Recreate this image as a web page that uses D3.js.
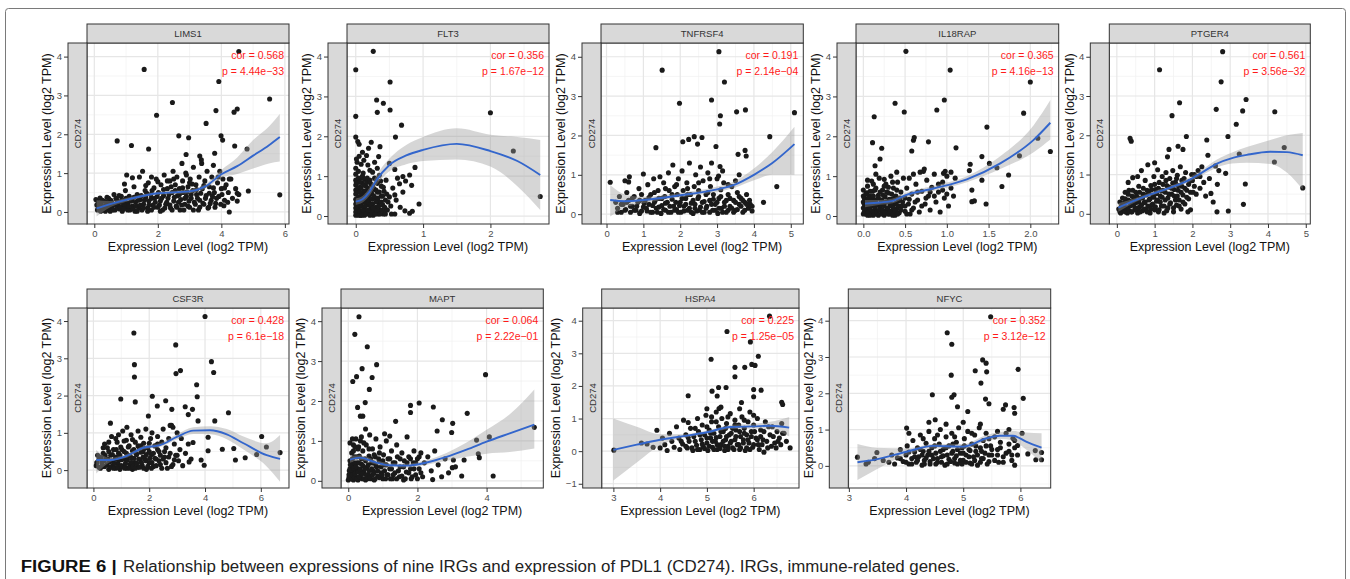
<!DOCTYPE html>
<html>
<head>
<meta charset="utf-8">
<script src="https://cdn.jsdelivr.net/npm/d3@7"></script>
<style>
  body { margin: 0; background: #fff; }
  svg { display: block; font-family: "Liberation Sans", Arial, sans-serif; }
</style>
</head>
<body>
<script>
// gene names, annotations and ticks
const genes = ['LIMS1', 'FLT3', 'TNFRSF4', 'IL18RAP', 'PTGER4', 'CSF3R', 'MAPT', 'HSPA4', 'NFYC'];
const corText = ['cor = 0.568', 'cor = 0.356', 'cor = 0.191', 'cor = 0.365', 'cor = 0.561',
    'cor = 0.428', 'cor = 0.064', 'cor = 0.225', 'cor = 0.352'];
const pText = ['p = 4.44e\u221233', 'p = 1.67e\u221212', 'p = 2.14e\u221204', 'p = 4.16e\u221213', 'p = 3.56e\u221232',
    'p = 6.1e\u221218', 'p = 2.22e\u221201', 'p = 1.25e\u221205', 'p = 3.12e\u221212'];
const xTicks = [[0, 2, 4, 6], [0, 1, 2], [0, 1, 2, 3, 4, 5], [0, 0.5, 1, 1.5, 2], [0, 1, 2, 3, 4, 5],
    [0, 2, 4, 6], [0, 2, 4], [3, 4, 5, 6], [3, 4, 5, 6]];
const yTicks = [[0, 1, 2, 3, 4], [0, 1, 2, 3, 4], [0, 1, 2, 3, 4], [0, 1, 2, 3, 4], [0, 1, 2, 3, 4],
    [0, 1, 2, 3, 4], [0, 1, 2, 3, 4], [-1, 0, 1, 2, 3, 4], [0, 1, 2, 3, 4]];
const xDomains = [[-0.23, 6.13], [-0.13, 2.87], [-0.15, 5.34], [-0.088, 2.34], [-0.2, 5.12],
    [-0.23, 7.01], [-0.21, 5.64], [2.75, 6.97], [2.99, 6.53]];
const yDomains = [[-0.31, 4.35], [-0.2, 4.34], [-0.25, 4.35], [-0.2, 4.34], [-0.26, 4.35],
    [-0.48, 4.35], [-0.18, 4.33], [-1.13, 4.39], [-0.61, 4.35]];

// scatter points [IRG expression, CD274 expression]
const lims1Pts = [[0.05,0.32],[0.08,0.18],[0.1,0.05],[0.12,0.25],[0.15,0.12],[0.18,0.36],[0.2,0.02],[0.22,0.2],[0.25,0.1],[0.3,0.28],[0.32,0.05],[0.35,0.15],[0.4,0.38],[0.42,0.08],[0.45,0.22],[0.5,0.02],[0.52,0.3],[0.55,0.12],[0.6,0.2],[0.62,0.45],[0.65,0.05],[0.7,0.32],[0.72,0.15],[0.78,0.08],[0.8,0.25],[0.85,0.4],[0.88,0.02],[0.9,0.15],[0.95,0.3],[0.98,0.55],[1.0,0.1],[1.02,0.95],[1.05,0.22],[1.1,0.4],[1.12,0.05],[1.18,0.3],[1.2,0.15],[1.25,0.65],[1.28,0.02],[1.3,0.25],[1.35,0.45],[1.4,0.1],[1.42,0.9],[1.45,0.32],[1.5,0.05],[1.52,1.05],[1.55,0.2],[1.6,0.55],[1.62,0.38],[1.68,0.1],[1.7,0.75],[1.72,0.28],[1.78,0.45],[1.8,0.05],[1.85,0.18],[1.88,0.62],[1.9,0.35],[1.95,0.85],[2.0,0.12],[2.02,0.5],[2.08,0.28],[2.1,0.7],[2.15,0.05],[2.18,0.42],[2.2,0.95],[2.25,0.2],[2.3,0.6],[2.32,0.35],[2.38,0.8],[2.4,0.1],[2.45,0.5],[2.48,1.05],[2.5,0.28],[2.55,0.7],[2.58,0.15],[2.6,0.9],[2.62,0.42],[2.68,0.6],[2.7,0.05],[2.72,0.32],[2.78,0.8],[2.8,0.5],[2.85,0.2],[2.88,1.0],[2.9,0.4],[2.95,0.65],[3.0,0.12],[3.02,0.85],[3.05,0.35],[3.1,0.55],[3.12,1.15],[3.15,0.25],[3.2,0.7],[3.22,0.45],[3.28,0.05],[3.3,0.9],[3.32,0.3],[3.38,1.25],[3.4,0.6],[3.45,0.2],[3.48,0.8],[3.52,0.42],[3.55,1.05],[3.6,0.12],[3.62,0.65],[3.68,0.3],[3.7,0.9],[3.75,1.2],[3.78,0.5],[3.82,0.22],[3.88,0.75],[3.92,0.4],[3.95,1.05],[4.0,0.6],[4.05,0.85],[4.1,0.3],[4.15,0.7],[4.22,0.5],[4.3,0.85],[4.35,0.35],[4.45,0.6],[4.55,0.45],
    [4.55,4.13],[1.57,3.67],[3.92,3.36],[5.52,2.91],[2.46,2.82],[1.96,2.49],[3.83,2.61],[4.4,2.57],[4.5,2.65],[3.52,2.28],[0.72,1.83],[1.17,1.71],[1.71,1.62],[2.66,1.96],[2.97,1.91],[3.99,1.96],[4.04,1.85],[4.42,1.7],[4.81,1.62],[2.89,1.48],[3.32,1.44],[3.79,1.51],[2.76,1.25],[3.37,1.34],[5.84,0.44],[4.85,0.54],[4.5,0.48],[4.5,0.28],[4.25,0.0],[4.08,0.16]];
const lims1Core = [[0.12,0.08],[0.18,0.22],[0.25,0.3],[0.28,0.12],[0.35,0.02],[0.38,0.25],[0.45,0.35],[0.48,0.12],[0.55,0.25],[0.58,0.05],[0.65,0.18],[0.68,0.35],[0.75,0.22],[0.78,0.42],[0.82,0.12],[0.85,0.28],[0.92,0.08],[0.95,0.2],[1.0,0.35],[1.05,0.05],[1.08,0.15],[1.15,0.28],[1.22,0.08],[1.25,0.38],[1.32,0.15],[1.35,0.02],[1.38,0.3],[1.45,0.18],[1.48,0.42],[1.55,0.1],[1.58,0.3],[1.65,0.48],[1.68,0.02],[1.72,0.18],[1.8,0.35],[1.82,0.55],[1.88,0.12],[1.92,0.25],[1.98,0.4],[2.05,0.18],[2.08,0.02],[2.12,0.35],[2.18,0.58],[2.22,0.1],[2.28,0.25],[2.35,0.45],[2.38,0.18],[2.42,0.65],[2.45,0.05],[2.52,0.38],[2.55,0.55],[2.6,0.12],[2.65,0.25],[2.68,0.45],[2.75,0.18],[2.78,0.62],[2.82,0.05],[2.85,0.35],[2.92,0.52],[2.95,0.15],[2.98,0.28],[3.05,0.45],[3.08,0.72],[3.12,0.05],[3.18,0.2],[3.22,0.58],[3.25,0.35],[3.32,0.12],[3.35,0.48],[3.42,0.22],[3.45,0.68],[3.5,0.35],[3.58,0.1],[3.62,0.48],[3.65,0.22],[3.72,0.4],[3.75,0.62],[3.8,0.12],[3.85,0.35],[3.9,0.9],[3.98,0.2],[4.02,0.45],[4.1,0.62],[4.2,0.25],[4.25,0.85],[3.0,0.75],[2.9,0.95],[2.5,0.85],[2.3,0.8],[2.0,0.78],[1.8,0.9],[1.2,0.88],[0.95,0.72],[1.62,0.68]];
const flt3Pts = [[0,0.02],[0,0.1],[0,0.2],[0,0.3],[0,0.42],[0,0.55],[0,0.65],[0,0.78],[0,0.9],[0,1.05],[0,1.2],[0.02,0.05],[0.02,0.35],[0.03,0.6],[0.03,0.85],[0.04,1.12],[0.05,0.15],[0.05,0.48],[0.06,0.72],[0.07,0.02],[0.07,0.28],[0.08,0.95],[0.09,0.55],[0.1,0.1],[0.1,0.4],[0.1,0.82],[0.11,1.08],[0.12,0.22],[0.12,0.62],[0.13,0.02],[0.14,0.35],[0.15,0.75],[0.15,0.5],[0.16,0.12],[0.17,0.95],[0.18,0.28],[0.19,0.6],[0.2,0.05],[0.2,0.42],[0.21,1.15],[0.22,0.18],[0.23,0.8],[0.24,0.55],[0.25,0.3],[0.26,0.02],[0.27,0.68],[0.28,0.12],[0.29,0.45],[0.3,0.92],[0.3,0.22],[0.32,0.6],[0.33,0.05],[0.34,0.35],[0.35,1.02],[0.36,0.15],[0.38,0.5],[0.38,0.75],[0.4,0.28],[0.41,0.05],[0.42,0.62],[0.44,0.4],[0.45,0.9],[0.47,0.15],[0.5,0.48],[0.52,0.25],[0.55,0.7],[0.58,0.05],[0.6,0.4],[0.62,0.95],[0.66,0.22],[0.7,0.6],[0.02,1.35],[0.05,1.5],[0.08,1.3],[0.12,1.4],[0.18,1.28],[0.25,1.1],[0.28,1.35],[0.32,1.2],[0.1,1.6],
    [0.26,4.13],[0,3.67],[0.51,3.36],[0.31,2.91],[0.41,2.83],[0.32,2.6],[0.51,2.66],[0,2.5],[0.68,2.28],[2.0,2.59],[2.34,1.63],[2.74,0.49],[0.59,1.98],[0,1.98],[0.03,1.87],[0.05,1.8],[0.23,1.85],[0.19,1.7],[0.36,1.74],[0.34,1.49],[0.16,1.52],[0.01,1.43],[0.88,1.22],[0.8,1.03],[0.7,0.99],[0.74,0.88],[0.65,0.81],[0.83,0.77],[0.58,0.53],[0.94,0.3],[0.73,0.13],[0.8,0.07],[0.84,0.12],[0.53,0.05],[0.45,0.15],[0.5,1.32],[0.58,1.17]];
const flt3Core = [[0.01,0.15],[0.01,0.38],[0.01,0.6],[0.01,0.85],[0.03,0.22],[0.03,0.45],[0.03,0.7],[0.04,0.02],[0.04,0.95],[0.06,0.12],[0.06,0.35],[0.06,0.6],[0.06,0.85],[0.08,0.25],[0.08,0.48],[0.08,0.7],[0.09,0.02],[0.1,1.0],[0.11,0.15],[0.11,0.35],[0.12,0.52],[0.12,0.78],[0.13,0.92],[0.14,0.25],[0.15,0.05],[0.15,0.62],[0.16,0.42],[0.17,0.85],[0.18,0.15],[0.18,0.7],[0.19,0.35],[0.2,0.52],[0.21,0.02],[0.21,0.9],[0.22,0.28],[0.23,0.62],[0.24,0.1],[0.24,0.42],[0.25,0.75],[0.26,0.2],[0.27,0.5],[0.28,0.95],[0.29,0.05],[0.3,0.35],[0.3,0.65],[0.31,0.15],[0.32,0.82],[0.33,0.45],[0.34,0.25],[0.35,0.6],[0.36,0.05],[0.37,0.88],[0.38,0.35],[0.39,0.15],[0.4,0.5],[0.41,0.72],[0.43,0.22],[0.44,0.05],[0.46,0.55],[0.48,0.35]];
const tnfrsf4Pts = [[0.25,0.3],[0.3,0.15],[0.35,0.45],[0.4,0.05],[0.45,0.25],[0.5,0.85],[0.52,0.12],[0.55,0.55],[0.6,0.35],[0.62,0.95],[0.65,0.05],[0.7,0.2],[0.75,0.45],[0.8,0.1],[0.85,0.3],[0.88,0.65],[0.9,0.02],[0.95,0.5],[1.0,0.18],[1.0,1.02],[1.05,0.35],[1.1,0.08],[1.12,0.75],[1.15,0.25],[1.2,0.5],[1.25,0.05],[1.28,0.9],[1.3,0.3],[1.35,0.15],[1.4,0.6],[1.42,0.4],[1.48,0.02],[1.5,0.22],[1.55,0.8],[1.58,0.45],[1.6,0.1],[1.65,0.3],[1.68,1.05],[1.7,0.6],[1.75,0.05],[1.78,0.38],[1.8,1.25],[1.82,0.2],[1.85,0.7],[1.9,0.12],[1.92,0.5],[1.95,0.9],[2.0,0.3],[2.02,0.05],[2.05,1.1],[2.08,0.6],[2.1,0.2],[2.15,0.4],[2.18,0.8],[2.2,0.1],[2.25,1.3],[2.28,0.5],[2.3,0.28],[2.35,0.02],[2.38,0.7],[2.4,0.15],[2.42,1.0],[2.48,0.4],[2.5,0.6],[2.52,0.1],[2.55,1.2],[2.6,0.3],[2.62,0.85],[2.65,0.05],[2.7,0.5],[2.72,0.2],[2.75,1.05],[2.8,0.35],[2.82,0.7],[2.88,0.1],[2.9,0.5],[2.95,0.25],[3.0,0.9],[3.02,0.02],[3.05,0.4],[3.1,0.62],[3.12,0.15],[3.18,0.8],[3.2,0.3],[3.25,0.05],[3.3,0.5],[3.35,0.2],[3.4,0.7],[3.45,0.35],[3.5,0.1],[3.55,0.55],[3.6,0.25],[3.65,0.4],[3.7,0.05],[3.75,0.3],[3.8,0.5],[3.85,0.15],[3.9,0.25],[3.95,0.2],[0.6,0.82],[1.45,0.95],[2.85,1.3],[3.15,1.1],[3.6,1.0],
    [3.05,4.13],[1.51,3.66],[3.2,3.36],[2.85,2.9],[1.98,2.82],[3.09,2.5],[3.07,2.29],[3.53,2.6],[3.77,2.65],[5.1,2.58],[1.34,1.69],[2.38,1.97],[2.23,1.9],[2.07,1.84],[2.59,1.95],[2.47,1.78],[2.97,1.72],[4.43,1.97],[3.57,1.52],[3.76,1.62],[3.79,1.48],[4.62,0.7],[4.26,0.3],[0.1,0.81],[3.08,1.21],[3.04,0.97]];
const tnfrsf4Core = [[0.3,0.05],[0.4,0.25],[0.5,0.1],[0.55,0.3],[0.65,0.2],[0.7,0.4],[0.75,0.1],[0.82,0.2],[0.9,0.35],[0.95,0.08],[1.02,0.28],[1.08,0.15],[1.15,0.42],[1.2,0.05],[1.25,0.22],[1.32,0.35],[1.38,0.05],[1.42,0.18],[1.5,0.4],[1.55,0.12],[1.6,0.28],[1.68,0.05],[1.72,0.2],[1.78,0.5],[1.85,0.1],[1.88,0.3],[1.95,0.05],[1.98,0.22],[2.05,0.4],[2.1,0.08],[2.15,0.25],[2.2,0.5],[2.25,0.15],[2.3,0.05],[2.35,0.35],[2.4,0.25],[2.45,0.08],[2.5,0.45],[2.55,0.18],[2.6,0.05],[2.65,0.32],[2.7,0.15],[2.75,0.55],[2.8,0.05],[2.85,0.25],[2.9,0.38],[2.95,0.1],[3.0,0.3],[3.05,0.15],[3.1,0.45],[3.15,0.05],[3.2,0.2],[3.25,0.35],[3.3,0.1],[3.35,0.4],[3.4,0.15],[3.45,0.05],[3.5,0.3],[3.55,0.12],[3.6,0.45],[3.65,0.2],[3.7,0.35],[3.75,0.1],[3.8,0.25],[3.88,0.35],[3.95,0.08],[1.6,0.65],[1.9,0.75],[2.2,0.65],[2.5,0.8],[2.8,0.9],[3.3,0.75],[3.5,0.85],[1.3,0.55]];
const il18rapPts = [[0,0.05],[0,0.2],[0,0.35],[0,0.5],[0,0.65],[0.02,0.12],[0.02,0.42],[0.03,0.28],[0.04,0.58],[0.05,0.02],[0.05,0.75],[0.06,0.18],[0.07,0.35],[0.08,0.5],[0.09,0.08],[0.1,0.88],[0.1,0.25],[0.11,0.62],[0.12,0.02],[0.13,0.4],[0.14,0.15],[0.15,0.7],[0.16,0.3],[0.17,0.05],[0.18,0.52],[0.19,0.95],[0.2,0.2],[0.21,0.38],[0.22,0.08],[0.23,0.65],[0.24,0.28],[0.25,0.02],[0.26,0.48],[0.27,0.8],[0.28,0.15],[0.29,0.35],[0.3,0.58],[0.31,0.05],[0.32,0.25],[0.33,1.0],[0.34,0.42],[0.35,0.12],[0.36,0.7],[0.37,0.3],[0.38,0.02],[0.39,0.5],[0.4,0.18],[0.41,0.85],[0.42,0.38],[0.43,0.08],[0.45,0.6],[0.46,0.25],[0.48,0.95],[0.5,0.12],[0.5,0.45],[0.52,0.7],[0.54,0.3],[0.56,0.05],[0.58,0.55],[0.6,1.05],[0.6,0.2],[0.63,0.8],[0.65,0.4],[0.67,0.1],[0.7,0.62],[0.72,1.12],[0.74,0.3],[0.76,0.9],[0.78,0.5],[0.8,0.15],[0.82,0.72],[0.85,1.05],[0.87,0.35],[0.9,0.6],[0.92,0.1],[0.95,0.85],[0.97,0.45],[1.0,1.0],[1.02,0.25],[1.05,0.7],[1.08,0.5],[1.1,0.95],[0.15,1.05],[0.25,0.92],[0.4,1.1],[0.55,0.95],[0.3,0.72],[0.1,0.45],
    [0.51,4.13],[1.04,3.66],[2.0,3.36],[0.97,2.91],[0.38,2.83],[0.49,2.61],[0.88,2.66],[0.13,2.49],[1.92,2.58],[1.48,2.23],[0.11,1.84],[0.22,1.7],[0.61,1.97],[0.6,1.9],[0.78,1.86],[0.58,1.63],[0.2,1.43],[0.14,1.26],[1.11,1.71],[1.42,1.49],[1.87,1.51],[2.09,1.95],[2.24,1.62],[1.51,1.32],[1.6,1.21],[1.74,1.03],[1.66,0.74],[1.3,0.65],[1.3,0.36],[1.33,0.38],[1.47,0.3],[1.28,1.3],[1.27,1.14],[1.42,0.9],[0.96,1.07],[0.98,1.12],[1.05,1.1],[0.68,1.1],[0.73,1.18]];
const il18rapCore = [[0.01,0.1],[0.01,0.3],[0.01,0.45],[0.03,0.05],[0.03,0.2],[0.03,0.55],[0.04,0.38],[0.06,0.1],[0.06,0.28],[0.06,0.45],[0.08,0.02],[0.08,0.2],[0.08,0.62],[0.09,0.38],[0.11,0.12],[0.11,0.28],[0.12,0.5],[0.13,0.05],[0.14,0.22],[0.14,0.65],[0.15,0.4],[0.16,0.1],[0.17,0.28],[0.18,0.02],[0.18,0.45],[0.19,0.15],[0.2,0.6],[0.21,0.28],[0.22,0.05],[0.22,0.4],[0.23,0.15],[0.24,0.52],[0.25,0.25],[0.26,0.08],[0.27,0.35],[0.28,0.6],[0.29,0.2],[0.3,0.05],[0.31,0.42],[0.32,0.12],[0.33,0.3],[0.34,0.55],[0.35,0.02],[0.36,0.2],[0.37,0.45],[0.38,0.12],[0.39,0.32],[0.4,0.65],[0.41,0.05],[0.42,0.25],[0.44,0.45],[0.45,0.15],[0.47,0.35],[0.5,0.25],[0.52,0.05],[0.55,0.42],[0.58,0.15],[0.62,0.35],[0.65,0.6],[0.7,0.25],[0.75,0.45],[0.8,0.6],[0.85,0.5],[0.9,0.8],[0.95,0.65],[1.0,0.55],[0.25,0.75],[0.12,0.8],[0.35,0.85],[0.05,0.9]];
const ptger4Pts = [[0.05,0.12],[0.08,0.3],[0.1,0.02],[0.12,0.2],[0.15,0.4],[0.18,0.08],[0.2,0.28],[0.22,0.55],[0.25,0.15],[0.28,0.02],[0.3,0.35],[0.32,0.6],[0.35,0.2],[0.38,0.05],[0.4,0.45],[0.42,0.92],[0.45,0.25],[0.48,0.1],[0.5,0.55],[0.52,0.32],[0.55,0.02],[0.58,0.7],[0.6,0.18],[0.62,0.4],[0.65,1.1],[0.68,0.08],[0.7,0.5],[0.72,0.28],[0.75,0.85],[0.78,0.12],[0.8,0.6],[0.82,1.25],[0.85,0.35],[0.88,0.02],[0.9,0.72],[0.92,0.22],[0.95,0.48],[0.98,0.95],[1.0,0.1],[1.02,0.62],[1.05,0.32],[1.08,1.12],[1.1,0.05],[1.12,0.8],[1.15,0.45],[1.18,0.2],[1.2,0.95],[1.22,0.6],[1.25,0.02],[1.28,0.35],[1.3,1.05],[1.32,0.72],[1.35,0.15],[1.38,0.5],[1.4,0.9],[1.42,0.28],[1.45,0.65],[1.48,1.1],[1.5,0.05],[1.52,0.45],[1.55,0.8],[1.58,0.22],[1.6,0.98],[1.62,0.6],[1.65,0.35],[1.68,1.2],[1.7,0.12],[1.72,0.7],[1.75,0.48],[1.78,0.9],[1.8,0.25],[1.82,1.05],[1.85,0.6],[1.88,0.05],[1.9,0.38],[1.92,0.82],[1.95,0.1],[1.98,1.0],[2.02,0.55],[2.05,0.7],[2.1,0.95],[2.15,1.1],[2.2,0.65],[2.25,1.2],[2.3,0.8],[2.35,0.45],[2.45,0.9],[0.3,0.8],[0.55,0.95],[1.0,1.3],
    [2.8,4.13],[1.13,3.67],[2.76,3.36],[3.42,2.91],[1.66,2.83],[2.63,2.66],[3.33,2.62],[4.18,2.6],[1.46,2.5],[3.16,2.28],[0.35,1.92],[0.38,1.85],[1.84,1.97],[2.94,1.97],[2.38,1.88],[1.38,1.64],[1.62,1.72],[1.75,1.64],[1.34,1.45],[2.41,1.49],[3.24,1.52],[4.43,1.69],[4.17,1.32],[4.92,0.66],[3.4,0.76],[3.35,0.24],[2.95,0.07],[2.65,0.05],[2.88,1.03],[2.61,1.22],[2.49,0.52],[2.66,0.75],[2.55,0.3],[2.7,1.1]];
const ptger4Core = [[0.08,0.05],[0.12,0.12],[0.15,0.25],[0.18,0.18],[0.22,0.05],[0.22,0.38],[0.25,0.3],[0.28,0.15],[0.3,0.5],[0.32,0.08],[0.35,0.32],[0.38,0.22],[0.4,0.05],[0.42,0.6],[0.45,0.38],[0.48,0.15],[0.5,0.28],[0.52,0.45],[0.55,0.12],[0.58,0.3],[0.6,0.55],[0.62,0.05],[0.65,0.22],[0.68,0.4],[0.7,0.65],[0.72,0.12],[0.75,0.3],[0.78,0.48],[0.8,0.05],[0.82,0.2],[0.85,0.55],[0.88,0.38],[0.9,0.12],[0.92,0.62],[0.95,0.25],[0.98,0.42],[1.0,0.75],[1.02,0.18],[1.05,0.52],[1.08,0.35],[1.1,0.65],[1.12,0.1],[1.15,0.3],[1.18,0.58],[1.2,0.42],[1.22,0.75],[1.25,0.2],[1.28,0.55],[1.3,0.85],[1.32,0.08],[1.35,0.4],[1.38,0.68],[1.4,0.25],[1.45,0.5],[1.48,0.78],[1.5,0.15],[1.52,0.62],[1.55,0.35],[1.58,0.9],[1.6,0.45],[1.62,0.72],[1.65,0.2],[1.7,0.55],[1.72,0.85],[1.75,0.3],[1.8,0.65],[1.85,0.42],[1.9,0.75],[1.95,0.55],[2.0,0.85],[2.05,1.0],[2.1,0.5],[2.2,0.95]];
const csf3rPts = [[0.1,0.12],[0.2,0.3],[0.25,0.05],[0.3,0.2],[0.35,0.45],[0.4,0.1],[0.45,0.3],[0.5,0.6],[0.55,0.02],[0.58,0.22],[0.62,0.4],[0.65,0.9],[0.7,0.12],[0.72,0.55],[0.78,0.3],[0.8,0.05],[0.85,0.75],[0.88,0.18],[0.9,0.45],[0.95,0.02],[0.98,0.62],[1.0,0.28],[1.05,1.05],[1.08,0.1],[1.1,0.5],[1.15,0.3],[1.18,0.8],[1.2,0.05],[1.25,0.4],[1.28,0.65],[1.3,0.15],[1.35,0.95],[1.38,0.32],[1.4,0.02],[1.45,0.55],[1.48,0.2],[1.5,0.75],[1.55,0.42],[1.58,0.08],[1.6,1.05],[1.65,0.6],[1.68,0.28],[1.7,0.88],[1.75,0.12],[1.78,0.5],[1.8,0.72],[1.85,0.3],[1.88,1.1],[1.9,0.02],[1.95,0.6],[2.0,0.2],[2.05,0.85],[2.08,0.42],[2.1,1.0],[2.15,0.1],[2.2,0.65],[2.25,0.3],[2.3,0.9],[2.35,0.5],[2.4,0.15],[2.45,0.75],[2.5,1.1],[2.55,0.35],[2.6,0.6],[2.65,0.05],[2.7,0.85],[2.75,0.45],[2.8,1.2],[2.85,0.15],[2.9,0.7],[2.95,0.4],[3.0,1.0],[3.05,0.25],[3.1,0.55],[3.15,0.85],[3.2,0.12],[3.3,0.45],[3.4,0.7],[3.5,0.3],[0.4,0.7],[0.9,0.95],[1.2,1.15],[0.15,0.4],
    [4.0,4.12],[1.45,3.68],[2.95,3.36],[1.47,2.83],[1.47,2.5],[3.12,2.67],[2.96,2.59],[4.23,2.91],[4.31,2.62],[3.7,2.29],[3.72,1.97],[0.98,1.91],[1.5,1.83],[2.11,1.98],[2.59,1.86],[2.29,1.72],[2.81,1.63],[3.29,1.7],[3.55,1.63],[3.4,1.49],[4.84,1.54],[1.97,1.45],[4.35,1.32],[3.75,1.32],[0.61,1.26],[6.03,0.9],[5.85,0.42],[6.2,0.62],[6.69,0.47],[5.44,0.33],[5.09,0.27],[5.03,0.58],[4.62,0.56],[4.11,0.52],[4.11,0.88],[3.57,0.74],[3.86,0.27],[3.97,0.13],[3.43,0.22],[2.85,1.15],[2.75,1.2]];
const csf3rCore = [[0.12,0.2],[0.2,0.08],[0.28,0.35],[0.32,0.1],[0.38,0.25],[0.42,0.4],[0.48,0.15],[0.52,0.3],[0.55,0.5],[0.6,0.08],[0.65,0.25],[0.68,0.42],[0.72,0.05],[0.75,0.18],[0.8,0.35],[0.82,0.55],[0.88,0.08],[0.9,0.28],[0.95,0.4],[1.0,0.12],[1.02,0.55],[1.08,0.3],[1.12,0.05],[1.15,0.18],[1.18,0.45],[1.22,0.28],[1.25,0.62],[1.3,0.05],[1.32,0.38],[1.35,0.2],[1.4,0.52],[1.42,0.1],[1.45,0.32],[1.5,0.05],[1.52,0.45],[1.55,0.18],[1.6,0.65],[1.62,0.3],[1.65,0.08],[1.7,0.48],[1.72,0.2],[1.78,0.35],[1.8,0.05],[1.82,0.58],[1.88,0.25],[1.9,0.42],[1.95,0.1],[2.0,0.5],[2.02,0.32],[2.08,0.05],[2.1,0.2],[2.15,0.45],[2.2,0.32],[2.25,0.12],[2.3,0.55],[2.35,0.25],[2.4,0.4],[2.45,0.05],[2.5,0.3],[2.55,0.5],[2.6,0.2],[2.7,0.35],[2.8,0.1],[2.9,0.28],[3.0,0.4],[0.55,0.75],[0.8,0.85],[1.1,0.78],[1.4,0.82],[1.7,0.65],[2.0,0.72],[2.3,0.7],[0.35,0.6]];
const maptPts = [[0,0.02],[0.02,0.15],[0.05,0.3],[0.05,0.5],[0.08,0.05],[0.1,0.7],[0.1,0.2],[0.12,0.4],[0.15,0.9],[0.15,0.02],[0.18,0.6],[0.2,0.25],[0.22,1.05],[0.22,0.1],[0.25,0.45],[0.28,0.8],[0.28,0.02],[0.3,0.3],[0.32,0.62],[0.35,0.12],[0.35,1.0],[0.38,0.42],[0.4,0.05],[0.42,0.75],[0.45,0.22],[0.48,0.55],[0.5,0.02],[0.52,0.9],[0.55,0.35],[0.58,0.15],[0.6,0.62],[0.62,1.15],[0.65,0.05],[0.68,0.45],[0.7,0.8],[0.72,0.25],[0.75,0.02],[0.78,0.6],[0.8,1.05],[0.82,0.35],[0.85,0.12],[0.9,0.5],[0.92,0.85],[0.95,0.2],[1.0,0.05],[1.02,0.65],[1.05,0.4],[1.1,1.0],[1.12,0.15],[1.15,0.55],[1.2,0.3],[1.25,0.75],[1.28,0.05],[1.3,0.45],[1.35,0.2],[1.4,0.9],[1.42,0.6],[1.48,0.1],[1.5,0.35],[1.55,0.7],[1.6,0.02],[1.62,0.5],[1.68,0.22],[1.7,1.1],[1.75,0.6],[1.8,0.3],[1.82,0.05],[1.88,0.45],[1.9,0.75],[1.95,0.15],[2.0,0.55],[2.05,0.3],[2.1,0.7],[2.15,0.1],[2.2,0.45],[2.3,0.6],[2.4,0.25],[2.5,0.75],[2.6,0.4],[2.7,0.1],[2.8,0.55],[2.9,0.2],[3.1,0.35],[0.12,1.05],[0.38,1.1],[0.2,0.85],
    [0.31,4.11],[0.19,3.67],[0.55,3.36],[0.82,2.91],[0.4,2.81],[0.24,2.61],[0.69,2.59],[0.13,2.49],[3.97,2.66],[0.61,2.29],[0.49,1.96],[0.27,1.84],[0.35,1.62],[0.42,1.62],[1.8,1.89],[1.8,1.71],[2.05,1.95],[2.46,1.85],[3.44,1.69],[1.37,1.49],[3.02,1.44],[2.57,1.25],[2.72,1.53],[2.99,1.21],[3.71,1.02],[4.08,1.1],[5.38,1.34],[3.76,0.68],[3.79,0.58],[4.19,0.12],[3.28,0.12],[3.35,0.52],[3.04,0.52],[3.01,0.33],[2.44,0.03],[0.5,1.3],[1.05,1.18],[1.2,1.12]];
const maptCore = [[0.02,0.08],[0.03,0.25],[0.05,0.15],[0.06,0.4],[0.08,0.28],[0.1,0.05],[0.12,0.15],[0.12,0.55],[0.15,0.32],[0.18,0.08],[0.18,0.45],[0.2,0.18],[0.22,0.35],[0.25,0.05],[0.25,0.6],[0.28,0.22],[0.3,0.45],[0.32,0.1],[0.35,0.28],[0.38,0.55],[0.4,0.18],[0.42,0.38],[0.45,0.05],[0.48,0.3],[0.5,0.5],[0.52,0.15],[0.55,0.05],[0.58,0.4],[0.6,0.25],[0.62,0.08],[0.65,0.55],[0.68,0.3],[0.7,0.15],[0.72,0.45],[0.75,0.2],[0.78,0.05],[0.8,0.38],[0.85,0.25],[0.88,0.55],[0.9,0.08],[0.95,0.35],[0.98,0.15],[1.0,0.5],[1.05,0.25],[1.08,0.05],[1.1,0.4],[1.15,0.15],[1.2,0.55],[1.22,0.05],[1.25,0.3],[1.3,0.15],[1.35,0.45],[1.4,0.05],[1.45,0.25],[1.5,0.55],[1.55,0.12],[1.6,0.35],[1.65,0.05],[1.7,0.45],[1.75,0.2],[1.8,0.55],[1.85,0.1],[1.9,0.3],[1.95,0.45],[2.0,0.05],[2.05,0.6],[2.1,0.2],[0.15,0.75],[0.3,0.85],[0.45,0.95],[0.6,0.8],[0.75,0.65],[0.9,0.7],[0.05,0.95]];
const hspa4Pts = [[4.0,0.1],[4.05,0.4],[4.1,0.2],[4.15,0.02],[4.2,0.55],[4.25,0.3],[4.3,0.12],[4.35,0.75],[4.4,0.4],[4.42,0.05],[4.48,0.22],[4.5,0.95],[4.55,0.5],[4.58,0.1],[4.62,0.3],[4.65,0.7],[4.7,0.02],[4.72,0.45],[4.78,0.18],[4.8,1.0],[4.82,0.6],[4.85,0.05],[4.88,0.35],[4.9,0.8],[4.92,0.15],[4.95,0.5],[4.98,1.1],[5.0,0.25],[5.02,0.02],[5.05,0.65],[5.08,0.4],[5.1,0.9],[5.12,0.12],[5.15,0.55],[5.18,0.3],[5.2,1.2],[5.22,0.05],[5.25,0.75],[5.28,0.45],[5.3,0.2],[5.32,1.0],[5.35,0.6],[5.38,0.02],[5.4,0.35],[5.42,0.85],[5.45,0.15],[5.48,0.5],[5.5,1.15],[5.52,0.3],[5.55,0.7],[5.58,0.05],[5.6,0.95],[5.62,0.45],[5.65,0.2],[5.68,0.8],[5.7,0.6],[5.72,0.1],[5.75,1.05],[5.78,0.35],[5.8,0.7],[5.82,0.02],[5.85,0.5],[5.88,0.9],[5.9,0.25],[5.92,1.2],[5.95,0.6],[5.98,0.12],[6.0,0.8],[6.05,0.4],[6.08,1.0],[6.1,0.2],[6.15,0.65],[6.2,0.35],[6.25,0.9],[6.3,0.1],[6.35,0.5],[6.4,0.75],[6.45,0.25],[6.5,0.6],[6.55,0.4],[6.6,0.85],[6.65,0.55],[6.7,0.3],[4.6,0.88],[5.0,1.3],[5.3,1.35],[5.7,1.3],
    [6.34,4.14],[5.43,3.67],[5.93,3.35],[6.1,2.91],[5.09,2.82],[5.96,2.66],[6.03,2.63],[5.81,2.57],[5.6,2.57],[5.6,2.28],[5.25,1.95],[5.41,1.95],[5.11,1.84],[5.22,1.69],[6.0,1.89],[6.16,1.87],[6.0,1.67],[4.6,1.7],[5.74,1.49],[6.6,1.5],[6.62,1.43],[5.26,1.31],[3.01,0.03],[3.93,0.64],[6.78,0.1],[6.22,-0.03],[3.72,0.22],[3.6,0.25],[3.85,0.12]];
const hspa4Core = [[4.45,0.3],[4.55,0.15],[4.6,0.42],[4.68,0.1],[4.75,0.3],[4.8,0.05],[4.85,0.5],[4.9,0.22],[4.95,0.08],[5.0,0.4],[5.05,0.15],[5.08,0.55],[5.12,0.3],[5.15,0.05],[5.2,0.42],[5.22,0.2],[5.28,0.08],[5.3,0.6],[5.35,0.3],[5.38,0.15],[5.42,0.45],[5.45,0.05],[5.5,0.25],[5.52,0.55],[5.55,0.1],[5.6,0.35],[5.62,0.65],[5.68,0.2],[5.7,0.05],[5.72,0.45],[5.78,0.25],[5.8,0.55],[5.85,0.1],[5.88,0.35],[5.92,0.05],[5.95,0.45],[6.0,0.2],[6.02,0.6],[6.08,0.35],[6.12,0.05],[6.15,0.45],[6.18,0.2],[6.22,0.6],[6.28,0.3],[6.32,0.75],[6.38,0.15],[6.42,0.45],[6.48,0.1],[6.52,0.3],[6.58,0.2],[6.62,0.55],[5.0,0.75],[5.2,0.9],[5.4,0.7],[5.6,0.8],[5.8,0.95],[6.0,1.1],[5.1,1.05],[5.45,1.05],[4.75,0.7]];
const nfycPts = [[3.6,0.15],[3.7,0.1],[3.75,0.3],[3.8,0.05],[3.85,0.22],[3.9,0.45],[3.95,0.12],[4.0,0.3],[4.02,0.55],[4.05,0.05],[4.1,0.2],[4.12,0.7],[4.15,0.38],[4.18,0.1],[4.2,0.5],[4.22,0.25],[4.25,0.85],[4.28,0.02],[4.3,0.4],[4.32,0.15],[4.35,0.62],[4.38,0.3],[4.4,0.95],[4.42,0.05],[4.45,0.5],[4.48,0.2],[4.5,0.75],[4.52,0.35],[4.55,0.1],[4.58,0.6],[4.6,1.0],[4.62,0.25],[4.65,0.45],[4.68,0.02],[4.7,0.8],[4.72,0.3],[4.75,0.55],[4.78,0.12],[4.8,0.9],[4.82,0.4],[4.85,0.2],[4.88,0.65],[4.9,0.05],[4.92,1.05],[4.95,0.35],[4.98,0.5],[5.0,0.15],[5.02,0.75],[5.05,0.3],[5.08,0.95],[5.1,0.45],[5.12,0.08],[5.15,0.6],[5.18,0.25],[5.2,0.85],[5.22,0.4],[5.25,0.02],[5.28,1.05],[5.3,0.5],[5.32,0.2],[5.35,0.7],[5.38,0.35],[5.4,0.9],[5.45,0.12],[5.48,0.55],[5.5,0.3],[5.55,0.8],[5.6,0.45],[5.62,0.1],[5.65,0.65],[5.7,0.25],[5.75,0.9],[5.8,0.4],[5.85,0.15],[5.9,0.7],[5.95,0.3],[4.05,0.9],[4.4,1.2],[4.7,1.15],[5.0,1.2],[5.3,1.15],
    [5.48,4.11],[4.72,3.67],[4.8,3.35],[5.34,2.92],[5.4,2.83],[5.21,2.62],[5.41,2.59],[5.96,2.66],[4.79,2.5],[5.31,2.28],[4.46,1.96],[4.84,1.96],[4.8,1.89],[6.05,1.86],[5.39,1.84],[5.45,1.71],[5.74,1.68],[5.89,1.61],[5.9,1.45],[4.9,1.63],[5.08,1.5],[5.7,1.56],[4.51,1.27],[4.01,1.04],[3.15,0.24],[3.34,0.1],[3.49,0.37],[6.13,0.33],[6.26,0.42],[6.27,0.17],[6.37,0.37],[6.37,0.17],[5.9,0.02],[5.87,0.76],[6.03,0.9],[5.95,0.56],[3.3,0.05],[3.45,0.2]];
const nfycCore = [[3.9,0.2],[4.0,0.1],[4.05,0.38],[4.1,0.05],[4.15,0.25],[4.2,0.15],[4.25,0.45],[4.28,0.3],[4.32,0.05],[4.35,0.22],[4.4,0.4],[4.42,0.12],[4.45,0.3],[4.5,0.55],[4.52,0.05],[4.55,0.2],[4.6,0.4],[4.62,0.1],[4.65,0.28],[4.7,0.5],[4.72,0.05],[4.75,0.18],[4.8,0.35],[4.82,0.6],[4.85,0.08],[4.88,0.28],[4.9,0.45],[4.95,0.15],[4.98,0.05],[5.0,0.35],[5.02,0.55],[5.05,0.1],[5.1,0.25],[5.12,0.42],[5.15,0.05],[5.2,0.15],[5.22,0.55],[5.25,0.3],[5.3,0.1],[5.32,0.4],[5.35,0.2],[5.4,0.55],[5.42,0.05],[5.45,0.3],[5.5,0.45],[5.55,0.15],[5.6,0.3],[5.65,0.5],[5.7,0.1],[5.75,0.35],[5.8,0.6],[5.85,0.3],[5.9,0.5],[4.3,0.75],[4.55,0.85],[4.85,0.8],[5.15,0.9],[5.45,0.75],[5.6,0.95],[5.8,1.0]];

// loess fit: [x, fit, lower, upper]
const lims1Smooth = [[0.07,0.09,-0.12,0.3],[0.5,0.2,0.12,0.28],[1,0.31,0.26,0.36],[2,0.48,0.44,0.52],[3,0.53,0.48,0.58],[3.5,0.66,0.6,0.72],[4,0.97,0.88,1.08],[4.5,1.18,0.98,1.4],[5,1.45,1.12,1.85],[5.5,1.72,1.25,2.2],[5.84,1.93,1.3,2.52]];
const flt3Smooth = [[0,0.36,0.28,0.44],[0.1,0.42,0.34,0.5],[0.2,0.6,0.5,0.7],[0.3,0.88,0.76,1.0],[0.5,1.28,1.12,1.44],[0.75,1.52,1.3,1.78],[1,1.66,1.38,1.98],[1.5,1.81,1.42,2.2],[2,1.63,1.24,2.04],[2.4,1.38,0.75,1.98],[2.74,1.03,0.15,1.91]];
const tnfrsf4Smooth = [[0.1,0.36,-0.06,0.74],[0.5,0.33,0.17,0.5],[1,0.36,0.28,0.44],[2,0.48,0.43,0.54],[3,0.63,0.57,0.7],[3.5,0.76,0.68,0.85],[4,1.0,0.86,1.16],[4.5,1.3,1.0,1.58],[5.1,1.78,1.0,2.22]];
const il18rapSmooth = [[0.02,0.31,0.22,0.4],[0.2,0.34,0.28,0.4],[0.35,0.38,0.32,0.44],[0.5,0.52,0.46,0.58],[0.84,0.69,0.63,0.76],[1.24,0.92,0.85,1.0],[1.64,1.32,1.18,1.5],[2.04,1.91,1.6,2.28],[2.24,2.34,1.92,2.91]];
const ptger4Smooth = [[0.04,0.16,0.05,0.27],[0.5,0.35,0.3,0.4],[0.97,0.52,0.48,0.57],[1.4,0.66,0.62,0.7],[1.85,0.83,0.78,0.89],[2.25,1.05,0.98,1.12],[2.65,1.28,1.18,1.38],[3.05,1.42,1.28,1.56],[3.44,1.5,1.3,1.7],[4.06,1.58,1.27,1.88],[4.5,1.57,1.05,2.0],[4.92,1.49,0.62,2.06]];
const csf3rSmooth = [[0.1,0.27,-0.09,0.54],[0.6,0.27,0.22,0.33],[1.19,0.38,0.33,0.43],[1.79,0.6,0.55,0.65],[2.39,0.67,0.62,0.73],[2.99,0.89,0.82,0.96],[3.58,1.06,0.97,1.15],[4.18,1.07,0.96,1.18],[4.78,0.96,0.83,1.1],[5.38,0.72,0.55,0.9],[6.21,0.4,0.1,0.72],[6.69,0.3,-0.31,0.94]];
const maptSmooth = [[0.05,0.53,0.45,0.62],[0.34,0.58,0.52,0.64],[0.72,0.48,0.43,0.54],[1.2,0.39,0.34,0.44],[1.69,0.38,0.33,0.43],[2.27,0.46,0.4,0.52],[2.84,0.6,0.5,0.7],[3.42,0.78,0.6,0.96],[4.0,0.98,0.68,1.28],[4.67,1.19,0.72,1.67],[5.38,1.41,0.81,2.29]];
const hspa4Smooth = [[3.0,0.04,-0.9,1.0],[3.5,0.2,-0.35,0.75],[4.0,0.35,0.18,0.52],[4.5,0.46,0.4,0.52],[5.0,0.58,0.53,0.63],[5.5,0.74,0.68,0.8],[6.0,0.76,0.69,0.84],[6.35,0.78,0.67,0.9],[6.76,0.72,0.45,1.05]];
const nfycSmooth = [[3.15,0.1,-0.39,0.6],[3.48,0.18,-0.1,0.5],[4.01,0.39,0.3,0.48],[4.47,0.55,0.48,0.6],[5.0,0.53,0.47,0.6],[5.41,0.76,0.68,0.85],[5.64,0.83,0.74,0.93],[5.87,0.83,0.7,0.96],[6.1,0.67,0.45,0.92],[6.37,0.5,0.09,0.9]];

const pointSets = [lims1Pts.concat(lims1Core), flt3Pts.concat(flt3Core), tnfrsf4Pts.concat(tnfrsf4Core),
    il18rapPts.concat(il18rapCore), ptger4Pts.concat(ptger4Core), csf3rPts.concat(csf3rCore),
    maptPts.concat(maptCore), hspa4Pts.concat(hspa4Core), nfycPts.concat(nfycCore)];
const smoothSets = [lims1Smooth, flt3Smooth, tnfrsf4Smooth, il18rapSmooth, ptger4Smooth, csf3rSmooth, maptSmooth, hspa4Smooth, nfycSmooth];

// panel boxes (plot area, strips sit left of and above it)
const panels = [
    { left: 87, top: 43, width: 202, height: 181 },
    { left: 347, top: 43, width: 202, height: 181 },
    { left: 601, top: 43, width: 202.3, height: 181 },
    { left: 856, top: 43, width: 202.7, height: 181 },
    { left: 1109.3, top: 43, width: 201, height: 181 },
    { left: 87, top: 308, width: 202, height: 180 },
    { left: 341, top: 308, width: 202.3, height: 180 },
    { left: 601.7, top: 308, width: 197.3, height: 180 },
    { left: 848.3, top: 308, width: 202.4, height: 180 }
];
const stripW = 19;

const svg = d3.select('body').append('svg')
    .attr('width', 1350)
    .attr('height', 579);

svg.append('rect').attr('width', 1350).attr('height', 579).attr('fill', '#fff');

// outer frame of the figure
svg.append('rect')
    .attr('x', 5.5).attr('y', 8.5)
    .attr('width', 1340).attr('height', 640)
    .attr('rx', 3)
    .attr('fill', 'none')
    .attr('stroke', '#7a7a7a')
    .attr('stroke-width', 1);

function minorBreaks(major, dom) {
    const step = major[1] - major[0];
    const out = [];
    for (let i = -1; i < major.length; i++) {
        const v = major[0] + (i + 0.5) * step;
        if (v > dom[0] && v < dom[1]) out.push(v);
    }
    return out;
}

panels.forEach((p, i) => {
    const g = svg.append('g').attr('transform', `translate(${p.left},${p.top})`);
    const x = d3.scaleLinear().domain(xDomains[i]).range([0, p.width]);
    const y = d3.scaleLinear().domain(yDomains[i]).range([p.height, 0]);

    const clipId = 'clip' + i;
    g.append('clipPath').attr('id', clipId)
        .append('rect').attr('width', p.width).attr('height', p.height);

    const body = g.append('g').attr('clip-path', `url(#${clipId})`);

    // grid
    body.selectAll('.xminor').data(minorBreaks(xTicks[i], xDomains[i])).join('line')
        .attr('x1', d => x(d)).attr('x2', d => x(d))
        .attr('y1', 0).attr('y2', p.height)
        .attr('stroke', '#f0f0f0').attr('stroke-width', 0.7);
    body.selectAll('.yminor').data(minorBreaks(yTicks[i], yDomains[i])).join('line')
        .attr('y1', d => y(d)).attr('y2', d => y(d))
        .attr('x1', 0).attr('x2', p.width)
        .attr('stroke', '#f0f0f0').attr('stroke-width', 0.7);
    body.selectAll('.xmajor').data(xTicks[i]).join('line')
        .attr('x1', d => x(d)).attr('x2', d => x(d))
        .attr('y1', 0).attr('y2', p.height)
        .attr('stroke', '#e6e6e6').attr('stroke-width', 1.2);
    body.selectAll('.ymajor').data(yTicks[i]).join('line')
        .attr('y1', d => y(d)).attr('y2', d => y(d))
        .attr('x1', 0).attr('x2', p.width)
        .attr('stroke', '#e6e6e6').attr('stroke-width', 1.2);

    // points
    body.append('g').selectAll('circle').data(pointSets[i]).join('circle')
        .attr('cx', d => x(d[0]))
        .attr('cy', d => y(d[1]))
        .attr('r', 2.55)
        .attr('fill', '#1a1a1a');

    // confidence band and loess line
    const sm = smoothSets[i];
    body.append('path').datum(sm)
        .attr('d', d3.area().curve(d3.curveMonotoneX)
            .x(d => x(d[0])).y0(d => y(d[2])).y1(d => y(d[3])))
        .attr('fill', '#999999').attr('fill-opacity', 0.4);
    body.append('path').datum(sm)
        .attr('d', d3.line().curve(d3.curveMonotoneX)
            .x(d => x(d[0])).y(d => y(d[1])))
        .attr('fill', 'none').attr('stroke', '#3366cc').attr('stroke-width', 1.9);

    // panel border
    g.append('rect').attr('width', p.width).attr('height', p.height)
        .attr('fill', 'none').attr('stroke', '#333').attr('stroke-width', 1);

    // top strip
    g.append('rect').attr('x', 0).attr('y', -stripW).attr('width', p.width).attr('height', stripW)
        .attr('fill', '#d9d9d9').attr('stroke', '#333').attr('stroke-width', 1);
    g.append('text').attr('x', p.width / 2).attr('y', -stripW / 2)
        .attr('text-anchor', 'middle').attr('dominant-baseline', 'central')
        .attr('font-size', '9.5px').attr('fill', '#333')
        .text(genes[i]);

    // left strip
    g.append('rect').attr('x', -stripW).attr('y', 0).attr('width', stripW).attr('height', p.height)
        .attr('fill', '#d9d9d9').attr('stroke', '#333').attr('stroke-width', 1);
    g.append('text')
        .attr('transform', `translate(${-stripW / 2},${p.height / 2}) rotate(-90)`)
        .attr('text-anchor', 'middle').attr('dominant-baseline', 'central')
        .attr('font-size', '9.5px').attr('fill', '#333')
        .text('CD274');

    // axes
    const yAxis = g.append('g').attr('transform', `translate(${-stripW},0)`)
        .call(d3.axisLeft(y).tickValues(yTicks[i]).tickSize(4).tickPadding(2).tickFormat(d3.format('d')));
    const xFmt = i === 3 ? d3.format('.1f') : d3.format('d');
    const xAxis = g.append('g').attr('transform', `translate(0,${p.height})`)
        .call(d3.axisBottom(x).tickValues(xTicks[i]).tickSize(4).tickPadding(2).tickFormat(xFmt));
    [yAxis, xAxis].forEach(a => {
        a.select('.domain').remove();
        a.selectAll('line').attr('stroke', '#333');
        a.selectAll('text').attr('fill', '#4d4d4d')
            .style('font-size', '9.5px')
            .style('font-family', '"Liberation Sans", Arial, sans-serif');
    });

    let labW = 0;
    yAxis.selectAll('text').each(function () { labW = Math.max(labW, this.getBBox().width); });

    // axis titles
    g.append('text')
        .attr('transform', `translate(${-stripW - 6 - labW - 5.5},${p.height / 2}) rotate(-90)`)
        .attr('text-anchor', 'middle')
        .attr('font-size', '12.5px').attr('fill', '#111')
        .text('Expression Level (log2 TPM)');
    g.append('text')
        .attr('x', p.width / 2).attr('y', p.height + 27)
        .attr('text-anchor', 'middle')
        .attr('font-size', '12.5px').attr('fill', '#111')
        .text('Expression Level (log2 TPM)');

    // correlation labels
    g.append('text').attr('x', p.width - 5).attr('y', 16)
        .attr('text-anchor', 'end').attr('font-size', '10.5px').attr('fill', '#ff1a1a')
        .text(corText[i]);
    g.append('text').attr('x', p.width - 5).attr('y', 32)
        .attr('text-anchor', 'end').attr('font-size', '10.5px').attr('fill', '#ff1a1a')
        .text(pText[i]);
});

// caption
svg.append('text')
    .attr('x', 20.7).attr('y', 572)
    .attr('font-size', '16px').attr('font-weight', 'bold').attr('fill', '#111')
    .attr('textLength', 96).attr('lengthAdjust', 'spacingAndGlyphs')
    .text('FIGURE 6 |');
svg.append('text')
    .attr('x', 123).attr('y', 572)
    .attr('font-size', '16px').attr('fill', '#222')
    .attr('textLength', 837).attr('lengthAdjust', 'spacingAndGlyphs')
    .text('Relationship between expressions of nine IRGs and expression of PDL1 (CD274). IRGs, immune-related genes.');
</script>
</body>
</html>
